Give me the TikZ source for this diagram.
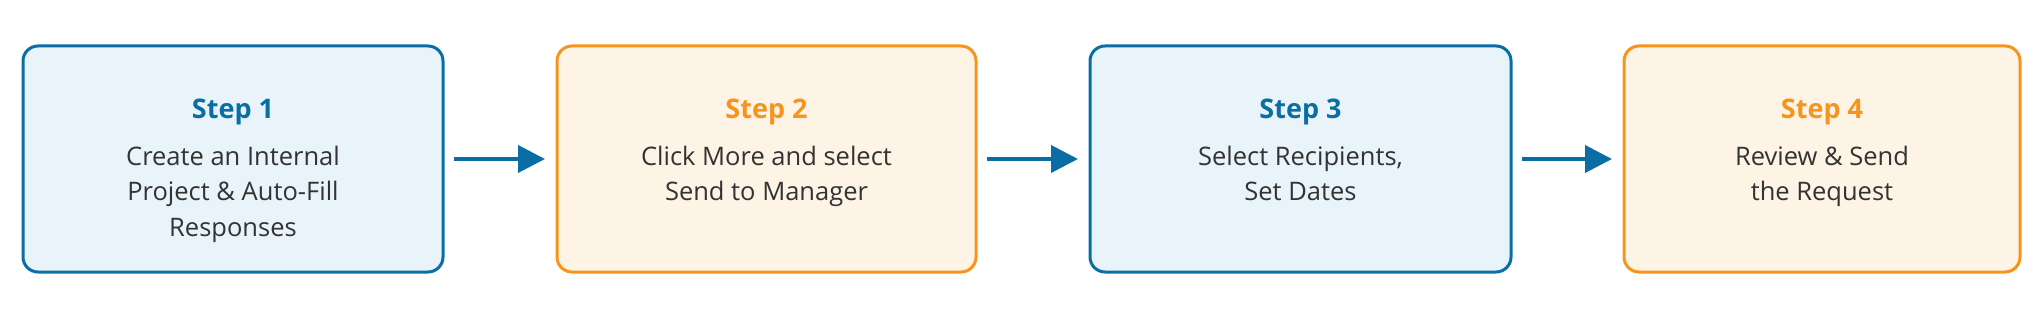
\documentclass[tikz,border=0pt]{standalone}
\usepackage{fontspec}
\setmainfont{Open Sans}
\usetikzlibrary{arrows.meta}
\definecolor{bluec}{HTML}{0A6EA5}
\definecolor{bluefill}{HTML}{E8F4FA}
\definecolor{orangec}{HTML}{F7941D}
\definecolor{orangefill}{HTML}{FEF4E6}
\definecolor{textc}{HTML}{333333}
\begin{document}
\begin{tikzpicture}[x=1pt,y=-1pt]
\useasboundingbox (0,0) rectangle (2044,318);
\tikzset{
  stepbox/.style={draw, line width=3pt, rounded corners=15pt, inner sep=0pt, outer sep=0pt,
    minimum height=226pt},
  bluebox/.style={stepbox, draw=bluec, fill=bluefill},
  orangebox/.style={stepbox, draw=orangec, fill=orangefill},
  steptitle/.style={font=\fontsize{27}{32}\selectfont\bfseries, anchor=base, inner sep=0pt},
  bodyline/.style={font=\fontsize{25.5}{34}\selectfont, text=textc, anchor=base, inner sep=0pt},
  flow/.style={draw=bluec, line width=4pt, -{Triangle[length=27pt,width=27pt]},
    shorten <=11pt, shorten >=12pt}
}
% boxes
\node[bluebox, minimum width=420pt] (b1) at (233,159) {};
\node[orangebox, minimum width=419pt] (b2) at (766.5,159) {};
\node[bluebox, minimum width=421pt] (b3) at (1300.5,159) {};
\node[orangebox, minimum width=396pt] (b4) at (1822,159) {};
% texts box 1
\node[steptitle, text=bluec] (t1) at (233,118) {Step 1};
\node[bodyline] (l1a) at (233,165) {Create an Internal};
\node[bodyline] (l1b) at (233,200.5) {Project \& Auto-Fill};
\node[bodyline] (l1c) at (233,236) {Responses};
% box 2
\node[steptitle, text=orangec] (t2) at (766.5,118) {Step 2};
\node[bodyline] (l2a) at (766.5,165) {Click More and select};
\node[bodyline] (l2b) at (766.5,200.5) {Send to Manager};
% box 3
\node[steptitle, text=bluec] (t3) at (1300.5,118) {Step 3};
\node[bodyline] (l3a) at (1300.5,165) {Select Recipients,};
\node[bodyline] (l3b) at (1300.5,200.5) {Set Dates};
% box 4
\node[steptitle, text=orangec] (t4) at (1822,118) {Step 4};
\node[bodyline] (l4a) at (1822,165) {Review \& Send};
\node[bodyline] (l4b) at (1822,200.5) {the Request};
% arrows
\draw[flow] (b1.east) -- (b2.west);
\draw[flow] (b2.east) -- (b3.west);
\draw[flow] (b3.east) -- (b4.west);
\end{tikzpicture}
\end{document}
